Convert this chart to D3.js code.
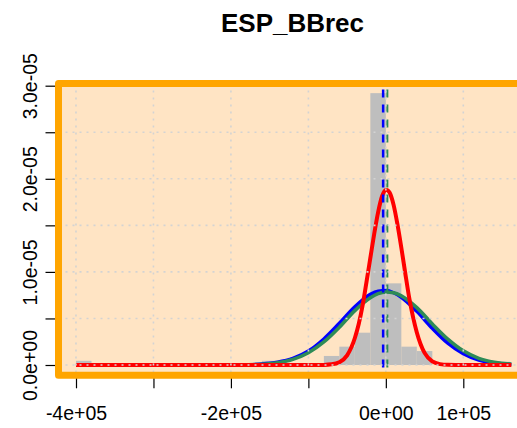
<!DOCTYPE html>
<html>
<head>
<meta charset="utf-8">
<script src="https://cdn.jsdelivr.net/npm/d3@7"></script>
<style>
  html, body { margin: 0; padding: 0; background: #ffffff; }
  svg { display: block; font-family: "Liberation Sans", Arial, sans-serif; }
</style>
</head>
<body>
<svg id="chart" width="517" height="428"></svg>
<script>
// ---------------- data ----------------
const chartTitle = "ESP_BBrec";

const xTickValues = [-4e5, -3e5, -2e5, -1e5, 0, 1e5];
const xTickLabels = ["-4e+05", "", "-2e+05", "", "0e+00", "1e+05"];
const yTickValues = [0, 0.5e-5, 1e-5, 1.5e-5, 2e-5, 2.5e-5, 3e-5];
const yTickLabels = ["0.0e+00", "", "1.0e-05", "", "2.0e-05", "", "3.0e-05"];

// histogram (density) bins
const binStart   = [-4e5,   -1.6e5,  -8e4,    -6e4,    -4e4,    -2e4,    0,       2e4,     4e4,    1.4e5];
const binEnd     = [-3.8e5, -1.4e5,  -6e4,    -4e4,    -2e4,    0,       2e4,     4e4,     6e4,    1.6e5];
const binDensity = [0.45e-6, 0.45e-6, 0.97e-6, 1.97e-6, 3.47e-6, 2.92e-5, 8.77e-6, 1.97e-6, 1.5e-6, 0.35e-6];

// blue and green fitted density curves
const wideX  = [-4e5, -3e5, -2.5e5, -2e5, -1.8e5, -1.6e5, -1.4e5, -1.2e5, -1e5, -8e4, -6e4, -4e4, -2e4, -1e4, 0, 1e4, 2e4, 4e4, 6e4, 8e4, 1e5, 1.2e5, 1.4e5, 1.6e5, 1.62e5];
const blueY  = [0, 0, 0.0002e-6, 0.008e-6, 0.030e-6, 0.10e-6, 0.29e-6, 0.70e-6, 1.50e-6, 2.80e-6, 4.48e-6, 6.25e-6, 7.60e-6, 7.93e-6, 7.99e-6, 7.76e-6, 7.28e-6, 5.76e-6, 3.94e-6, 2.34e-6, 1.21e-6, 0.54e-6, 0.21e-6, 0.07e-6, 0.063e-6];
const greenY = [0, 0, 0.0001e-6, 0.007e-6, 0.027e-6, 0.087e-6, 0.25e-6, 0.61e-6, 1.32e-6, 2.48e-6, 4.06e-6, 5.84e-6, 7.22e-6, 7.66e-6, 7.84e-6, 7.76e-6, 7.43e-6, 6.16e-6, 4.41e-6, 2.78e-6, 1.52e-6, 0.72e-6, 0.30e-6, 0.11e-6, 0.10e-6];

// red fitted density curve
const redX = [-4e5, -1e5, -8e4, -7e4, -6e4, -5e4, -4e4, -3.5e4, -3e4, -2.5e4, -2e4, -1.5e4, -1e4, -5e3, 0, 1e3, 5e3, 1e4, 1.5e4, 2e4, 2.5e4, 3e4, 3.5e4, 4e4, 5e4, 6e4, 7e4, 8e4, 1e5, 1.62e5];
const redY = [0, 0, 0.013e-6, 0.07e-6, 0.30e-6, 1.04e-6, 2.9e-6, 4.4e-6, 6.4e-6, 8.9e-6, 11.5e-6, 14.1e-6, 16.4e-6, 18.1e-6, 18.8e-6, 18.8e-6, 18.5e-6, 17.2e-6, 15.1e-6, 12.6e-6, 9.9e-6, 7.3e-6, 5.2e-6, 3.5e-6, 1.3e-6, 0.39e-6, 0.094e-6, 0.018e-6, 0, 0];

const blueMean = -3500;
const greenMean = 0;

// ---------------- drawing ----------------
const svg = d3.select("#chart");

const x = d3.scaleLinear().domain([-4e5, 1e5]).range([76, 463.3]);
const y = d3.scaleLinear().domain([0, 3e-5]).range([365, 85.7]);

const box = { x0: 58.5, y0: 83.5, x1: 530, y1: 375.3 };

svg.append("defs").append("clipPath").attr("id", "plotclip")
  .append("rect")
  .attr("x", box.x0).attr("y", box.y0)
  .attr("width", box.x1 - box.x0).attr("height", box.y1 - box.y0);

// title
svg.append("text")
  .attr("x", 292.5).attr("y", 32)
  .attr("text-anchor", "middle")
  .attr("font-size", 26).attr("font-weight", "bold")
  .attr("fill", "#000")
  .text(chartTitle);

// axes (ticks + labels)
const xAxis = d3.axisBottom(x)
  .tickValues(xTickValues)
  .tickFormat((d, i) => xTickLabels[i])
  .tickSize(13).tickSizeOuter(0);
const gx = svg.append("g").attr("transform", `translate(0,${box.y1})`).call(xAxis);
gx.select(".domain").remove();
gx.selectAll("line").attr("stroke", "#000").attr("stroke-width", 1.2);
gx.selectAll("text")
  .attr("y", 45).attr("dy", 0)
  .attr("font-size", 19.5).attr("font-family", "Liberation Sans, Arial, sans-serif")
  .attr("fill", "#000");

const yAxis = d3.axisLeft(y)
  .tickValues(yTickValues)
  .tickFormat((d, i) => yTickLabels[i])
  .tickSize(13).tickSizeOuter(0);
const gy = svg.append("g").attr("transform", `translate(${box.x0},0)`).call(yAxis);
gy.select(".domain").remove();
gy.selectAll("line").attr("stroke", "#000").attr("stroke-width", 1.2);
gy.selectAll("text")
  .attr("x", 0).attr("dy", 0)
  .attr("transform", "translate(-22,0) rotate(-90)")
  .attr("text-anchor", "middle")
  .attr("font-size", 19.5).attr("font-family", "Liberation Sans, Arial, sans-serif")
  .attr("fill", "#000");

// plot background
svg.append("rect")
  .attr("x", box.x0).attr("y", box.y0)
  .attr("width", box.x1 - box.x0).attr("height", box.y1 - box.y0)
  .attr("fill", "#FFE4C4");

const plot = svg.append("g").attr("clip-path", "url(#plotclip)");

// histogram bars
plot.selectAll("rect.bar")
  .data(binDensity.map((d, i) => ({ a: binStart[i], b: binEnd[i], v: d })))
  .enter().append("rect")
  .attr("class", "bar")
  .attr("x", d => x(d.a))
  .attr("width", d => x(d.b) - x(d.a))
  .attr("y", d => y(d.v))
  .attr("height", d => y(0) - y(d.v))
  .attr("fill", "#bebebe");

const line = d3.line().x(d => x(d[0])).y(d => y(d[1])).curve(d3.curveMonotoneX);

plot.append("path")
  .attr("d", line(wideX.map((v, i) => [v, blueY[i]])))
  .attr("fill", "none").attr("stroke", "#0000ff").attr("stroke-width", 3.5);
plot.append("path")
  .attr("d", line(wideX.map((v, i) => [v, greenY[i]])))
  .attr("fill", "none").attr("stroke", "#2e8b57").attr("stroke-width", 3.5);
plot.append("path")
  .attr("d", line(redX.map((v, i) => [v, redY[i]])))
  .attr("fill", "none").attr("stroke", "#ff0000").attr("stroke-width", 4);

// vertical mean lines
plot.append("line")
  .attr("x1", x(greenMean) + 1.5).attr("x2", x(greenMean) + 1.5)
  .attr("y1", box.y0).attr("y2", box.y1)
  .attr("stroke", "#2e8b57").attr("stroke-width", 2)
  .attr("stroke-dasharray", "8,7").attr("stroke-dashoffset", -6);
plot.append("line")
  .attr("x1", x(blueMean)).attr("x2", x(blueMean))
  .attr("y1", box.y0).attr("y2", box.y1)
  .attr("stroke", "#0000ff").attr("stroke-width", 2.5)
  .attr("stroke-dasharray", "8,7").attr("stroke-dashoffset", -6);

// grid (dotted, on top)
plot.selectAll("line.hgrid")
  .data(yTickValues).enter().append("line")
  .attr("class", "hgrid")
  .attr("x1", box.x0).attr("x2", box.x1)
  .attr("y1", d => y(d)).attr("y2", d => y(d))
  .attr("stroke", "#d3d3d3").attr("stroke-width", 1.6)
  .attr("stroke-dasharray", "2,5");
plot.selectAll("line.vgrid")
  .data(xTickValues).enter().append("line")
  .attr("class", "vgrid")
  .attr("x1", d => x(d)).attr("x2", d => x(d))
  .attr("y1", box.y0).attr("y2", box.y1)
  .attr("stroke", "#d3d3d3").attr("stroke-width", 1.6)
  .attr("stroke-dasharray", "2,5");

// orange frame
svg.append("rect")
  .attr("x", box.x0).attr("y", box.y0)
  .attr("width", box.x1 - box.x0).attr("height", box.y1 - box.y0)
  .attr("fill", "none")
  .attr("stroke", "#FFA500").attr("stroke-width", 7)
  .attr("stroke-linejoin", "round");
</script>
</body>
</html>
